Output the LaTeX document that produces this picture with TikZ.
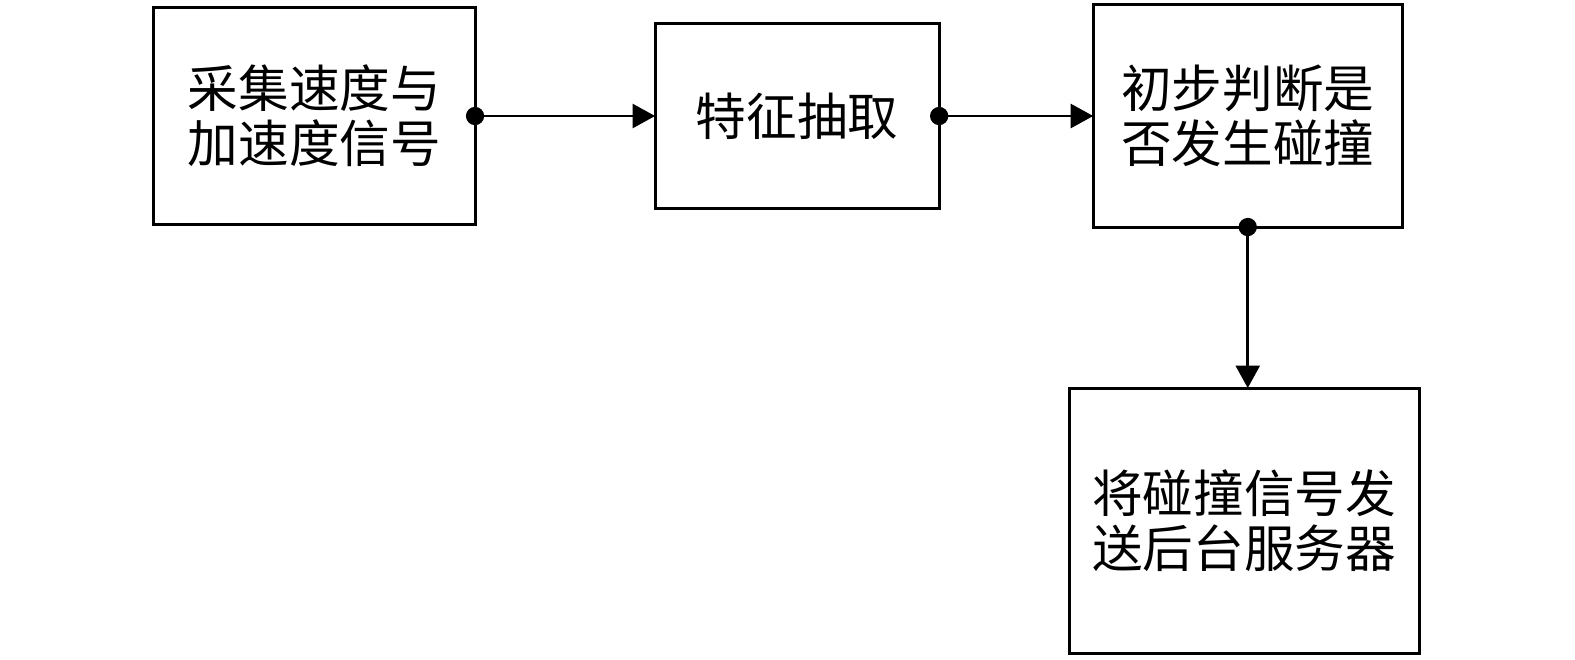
\documentclass[tikz,border=0pt]{standalone}
\usepackage{fontspec}
\newfontfamily\cjk{Noto Sans CJK SC}
\usetikzlibrary{arrows.meta,positioning}

\begin{document}
\begin{tikzpicture}[x=0.025cm,y=-0.025cm,>={Triangle[length=16pt,width=17pt]},line width=2.1pt,
 block/.style={draw,align=center,inner sep=0pt,outer sep=0pt,font=\cjk\fontsize{36}{39}\selectfont},
 dot/.style={fill,circle,inner sep=0pt,minimum size=13pt}]
 \useasboundingbox (0,0) rectangle (1575,659);
 \node[block,minimum width=8.025cm,minimum height=5.4cm] (collect) at (314.5,116) {采集速度与\\加速度信号};
 \node[block,minimum width=7.1cm,minimum height=4.625cm,right=4.5cm of collect] (extract) {特征抽取};
 \node[block,minimum width=7.725cm,minimum height=5.55cm,right=3.85cm of extract] (judge) {初步判断是\\否发生碰撞};
 \node[block,minimum width=8.75cm,minimum height=6.625cm,below=4.025cm of judge,xshift=-0.09cm] (send) {将碰撞信号发\\送后台服务器};

 \draw[->] (collect.east) -- (extract.west);
 \draw[->] (extract.east) -- (judge.west);
 \draw[->] (judge.south) -- (judge.south |- send.north);
 \node[dot] at (collect.east) {};
 \node[dot] at (extract.east) {};
 \node[dot] at (judge.south) {};
\end{tikzpicture}
\end{document}
